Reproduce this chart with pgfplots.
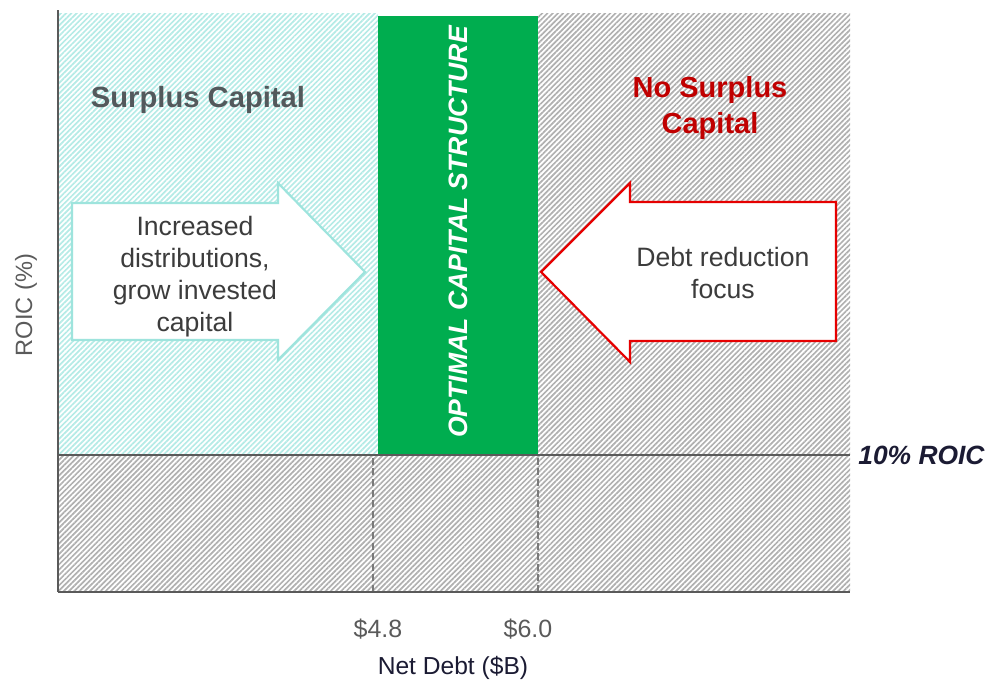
\documentclass[border=0pt]{standalone}
\usepackage{pgfplots}
\pgfplotsset{compat=1.18}
\usepackage{fontspec}
\setmainfont{Liberation Sans}
\usetikzlibrary{patterns.meta}
\definecolor{axisgray}{HTML}{5A5A5A}
\definecolor{hatchgray}{HTML}{B0B0B0}
\definecolor{hatchcyan}{HTML}{B5EBE6}
\definecolor{arrowcyan}{HTML}{9EE4DD}
\definecolor{optgreen}{HTML}{00AD4F}
\definecolor{darkred}{HTML}{C00000}
\definecolor{arrowred}{HTML}{E60000}
\definecolor{titlegray}{HTML}{53595C}
\definecolor{navy}{HTML}{1B1B33}
\definecolor{textgray}{HTML}{3C3C3C}
\definecolor{dashgray}{HTML}{7A7A7A}
\begin{document}
\begin{tikzpicture}
\begin{axis}[
  at={(0,0)}, anchor=south west,
  scale only axis, width=396pt, height=291pt,
  xmin=2.509, xmax=8.269, ymin=0, ymax=42.48,
  axis x line=bottom, axis y line=left,
  axis line style={-, draw=axisgray, line width=1.1pt},
  axis on top,
  ytick=\empty,
  xtick={4.836,5.927},
  xticklabels={\$4.8,\$6.0},
  major tick length=0pt,
  xticklabel style={anchor=center, yshift=-18.5pt, font=\fontsize{12.5}{15}\selectfont, text=axisgray},
  xlabel={Net Debt (\$B)},
  xlabel style={at={(axis description cs:0.4987,-0.1306)}, anchor=center, font=\fontsize{12.3}{15}\selectfont, text=navy},
  ylabel={ROIC (\%)},
  ylabel style={at={(axis description cs:-0.0404,0.4931)}, anchor=center, rotate=0, font=\fontsize{11.8}{14}\selectfont, text=axisgray},
  clip=false,
]
% hatched regions
\addplot[draw=none, pattern={Lines[angle=45,distance=1.85pt,line width=0.85pt]}, pattern color=hatchcyan]
  coordinates {(2.509,10) (4.836,10) (4.836,42.26) (2.509,42.26)} -- cycle;
\addplot[draw=none, pattern={Lines[angle=45,distance=1.85pt,line width=0.85pt]}, pattern color=hatchgray]
  coordinates {(6.0,10) (8.269,10) (8.269,42.26) (6.0,42.26)} -- cycle;
\addplot[draw=none, pattern={Lines[angle=45,distance=1.85pt,line width=0.85pt]}, pattern color=hatchgray]
  coordinates {(2.509,0) (8.269,0) (8.269,10) (2.509,10)} -- cycle;
% optimal band
\addplot[draw=none, fill=optgreen]
  coordinates {(4.836,10) (6.0,10) (6.0,42.04) (4.836,42.04)} -- cycle;
% 10% ROIC line
\addplot[axisgray, line width=1.1pt] coordinates {(2.509,10) (8.269,10)};
% dashed markers
\addplot[dashgray, line width=1.2pt, dash pattern=on 3.5pt off 1.8pt] coordinates {(4.8,0) (4.8,10)};
\addplot[dashgray, line width=1.2pt, dash pattern=on 3.5pt off 1.8pt] coordinates {(6.0,0) (6.0,10)};
% arrows
\addplot[arrowcyan, line width=1.1pt, fill=white]
  coordinates {(2.611,28.39) (4.109,28.39) (4.109,29.85) (4.742,23.36) (4.109,16.93) (4.109,18.39) (2.611,18.39)} -- cycle;
\addplot[arrowred, line width=1.1pt, fill=white]
  coordinates {(6.022,23.36) (6.669,29.85) (6.669,28.47) (8.167,28.47) (8.167,18.32) (6.669,18.32) (6.669,16.79)} -- cycle;
% texts
\node[font=\bfseries\fontsize{14.6}{18}\selectfont, text=titlegray] at (axis cs:3.527,35.95) {Surplus Capital};
\node[font=\bfseries\fontsize{14.5}{18}\selectfont, text=darkred, align=center] at (axis cs:7.251,35.35) {No Surplus\\Capital};
\node[font=\fontsize{13.3}{16}\selectfont, text=textgray, align=center] at (axis cs:3.505,23.0) {Increased\\distributions,\\grow invested\\capital};
\node[font=\fontsize{13.3}{16}\selectfont, text=textgray, align=center] at (axis cs:7.345,23.3) {Debt reduction\\focus};
\node[font=\bfseries\itshape\fontsize{13.3}{16}\selectfont, text=white, rotate=90] at (axis cs:5.418,26.28) {OPTIMAL CAPITAL STRUCTURE};
\node[font=\bfseries\itshape\fontsize{13.2}{16}\selectfont, text=navy, anchor=west, inner sep=0pt] at (axis cs:8.327,10) {10\% ROIC};
\end{axis}
\path (-29pt,-46.5pt) rectangle (464pt,296pt);
\end{tikzpicture}
\end{document}
